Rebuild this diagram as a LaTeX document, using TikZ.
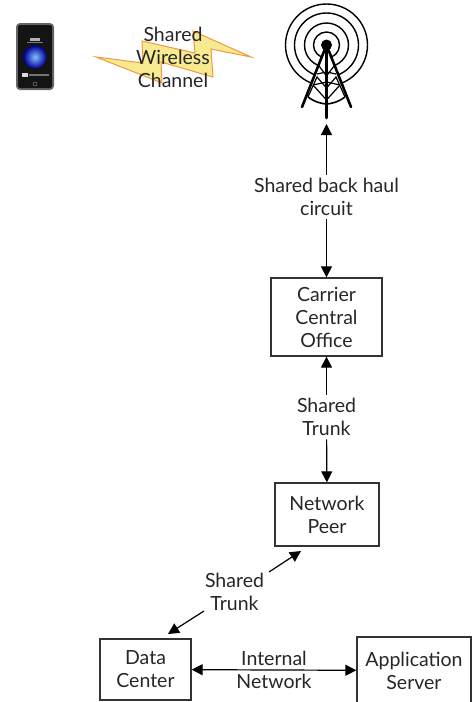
\documentclass[tikz,border=0pt]{standalone}
\usepackage{fontspec}
\setmainfont{Lato}
\usetikzlibrary{arrows.meta}

\begin{document}
\begin{tikzpicture}[x=1pt,y=-1pt]
    \tikzstyle{every node}=[text=black!85,font=\fontsize{19.5}{23}\selectfont,align=center]
    \tikzstyle{site}=[draw=black!80,line width=1.3pt,inner sep=0pt]
    \tikzstyle{link}=[line width=1.2pt,{Triangle[width=11pt,length=11pt]}-{Triangle[width=11pt,length=11pt]}]
    \tikzstyle{tower}=[line width=2.6pt,line cap=round]
    \tikzstyle{ring}=[line width=1.4pt]
    \definecolor{boltfill}{HTML}{F7EA90}
    \definecolor{boltline}{HTML}{F09A3C}

    \useasboundingbox (0,0) rectangle (476,702);

    %% Draw phone
    \fill [black!60,rounded corners=4pt] (16,23) rectangle (54,90);
    \fill [black!92,rounded corners=2pt] (18,25) rectangle (52,88);
    \shade [inner color=cyan!50!blue!50!white,outer color=blue!60!black] (35,57) circle (11.5);
    \fill [white!85!black] (22,73) rectangle (28,77);
    \fill [black!55] (29,74) rectangle (49,76);
    \fill [white!70!black] (30,38) rectangle (40,40.5);
    \fill [black!50] (27,42) rectangle (43,43);
    \draw [black!50,line width=.5pt] (35,84) circle (2);

    %% Draw wireless bolt
    \draw [fill=boltfill,draw=boltline,line width=1pt] (96,57) -- (143,63) -- (142,41)
        -- (195,53) -- (193,31) -- (251,57) -- (211,49) -- (213,77) -- (161,62)
        -- (162,83) -- cycle;
    \node (wireless) at (173,57) {Shared\\Wireless\\Channel};

    %% Draw radio tower
    \foreach \r in {13,22,32,41}
        \draw [ring] (326.5,45) circle (\r);
    \fill [white] (326.5,45) -- (301,107) -- (351,107) -- cycle;
    \fill [black] (326.5,45) circle (5.5);
    \draw [tower] (326.5,45) -- (302,107);
    \draw [tower] (326.5,45) -- (351,107);
    \draw [tower] (326.5,45) -- (326.5,118);
    \draw [line width=1.6pt] (308,97) to[bend right=15] (326.5,104) to[bend right=15] (345,97);
    \draw [line width=1.2pt] (313,85) -- (326.5,100) -- (340,85);
    \draw [line width=1.2pt] (308,97) -- (317,77) -- (326.5,88) -- (336,77) -- (345,97);
    \draw [line width=1.2pt] (313,85) -- (326.5,82) -- (340,85);
    \draw [line width=1.2pt] (317,74) -- (326.5,72) -- (336,74);
    \draw [line width=1.2pt] (319,66) -- (326.5,76) -- (334,66);
    \coordinate (mast) at (326.5,124);

    %% Draw sites
    \node [site,minimum width=111pt,minimum height=78pt] (office) at (326.5,317) {Carrier\\Central\\Office};
    \node [site,minimum width=104pt,minimum height=63pt] (peer) at (327,514.5) {Network\\Peer};
    \node [site,minimum width=91pt,minimum height=61pt] (center) at (145.5,669.5) {Data\\Center};
    \node [site,minimum width=114pt,minimum height=67pt] (server) at (414,670.5) {Application\\Server};

    %% Draw connector labels
    \node (backhaul) at (326.5,197) {Shared back haul\\circuit};
    \node (trunka) at (326.5,417) {Shared\\Trunk};
    \node (trunkb) at (234.5,592) {Shared\\Trunk};
    \node (internal) at (274,670) {Internal\\Network};

    %% Draw connectors
    \coordinate (peertip) at (301,551);
    \coordinate (centertip) at (168,634);
    \coordinate (trunkbtop) at (269,572);
    \coordinate (trunkbbot) at (204,611);
    \draw [link,-{Triangle[width=11pt,length=11pt]}] (backhaul) -- (office);
    \draw [link,-{Triangle[width=11pt,length=11pt]}] (backhaul) -- (mast);
    \draw [link,-{Triangle[width=11pt,length=11pt]}] (trunka) -- (office);
    \draw [link,-{Triangle[width=11pt,length=11pt]}] (trunka) -- (peer);
    \draw [link,-{Triangle[width=11pt,length=11pt]}] (trunkbtop) -- (peertip);
    \draw [link,-{Triangle[width=11pt,length=11pt]}] (trunkbbot) -- (centertip);
    \draw [link] (center) -- (server);
\end{tikzpicture}
\end{document}
